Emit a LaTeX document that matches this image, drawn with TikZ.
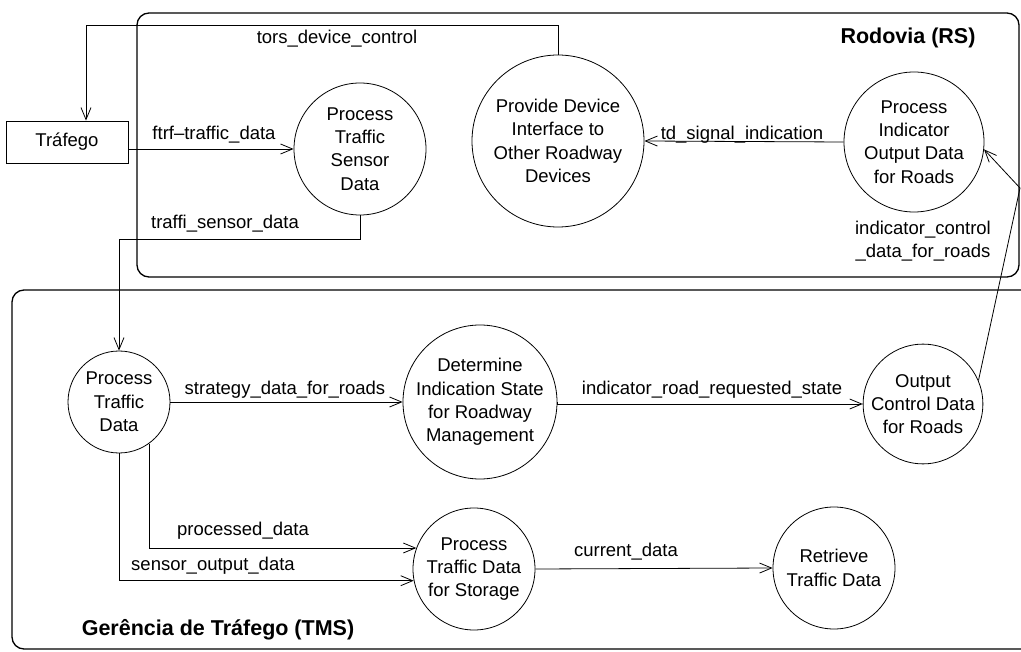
\documentclass[tikz,border=0pt]{standalone}
\usepackage{fontspec}
\setmainfont{Liberation Sans}
\usetikzlibrary{positioning, calc, arrows.meta}

\begin{document}
\begin{tikzpicture}[x=1pt,y=-1pt,
    font=\fontsize{18.5}{23.3}\selectfont,
    zone/.style={draw, line width=1.3pt, rounded corners=12pt},
    proc/.style={draw, circle, line width=0.8pt, inner sep=0pt, align=center},
    term/.style={draw, rectangle, line width=0.8pt, minimum width=122pt, minimum height=42pt},
    flow/.style={line width=0.8pt, -{Straight Barb[length=12pt,width=10pt]}},
    lbl/.style={inner sep=0pt, align=center},
    zonelbl/.style={inner sep=0pt, font=\fontsize{21.5}{25}\selectfont\bfseries}]
        \clip (0,0) rectangle (1021,652);

        % Zones
        \draw[zone] (137,13) rectangle (1019,277);
        \draw[zone] (12,290) rectangle (1040,649);
        \node[zonelbl] (rsName) at (908,38) {Rodovia (RS)};
        \node[zonelbl] (tmsName) at (218,630) {Gerência de Tráfego (TMS)};

        % Terminator
        \node[term] (trafego) at (67,142) {Tráfego};

        % Processes in RS
        \node[proc, minimum size=132pt] (sensor) at (360,149) {Process\\Traffic\\Sensor\\Data};
        \node[proc, minimum size=172pt] (provide) at (558,141) {Provide Device\\Interface to\\Other Roadway\\Devices};
        \node[proc, minimum size=140pt] (indicator) at (914,142) {Process\\Indicator\\Output Data\\for Roads};

        % Processes in TMS
        \node[proc, minimum size=102pt] (ptd) at (119,402) {Process\\Traffic\\Data};
        \node[proc, minimum size=152pt] (determine) at (480,402) {Determine\\Indication State\\for Roadway\\Management};
        \node[proc, minimum size=118pt] (output) at (923,404) {Output\\Control Data\\for Roads};
        \node[proc, minimum size=122pt] (storage) at (474,569) {Process\\Traffic Data\\for Storage};
        \node[proc, minimum size=122pt] (retrieve) at (834,568) {Retrieve\\Traffic Data};

        % Bends
        \coordinate (torsTop) at (86,25);
        \coordinate (tsBend) at (119,239);
        \coordinate (kink) at (1020,188);

        % Flows
        \draw[flow] (provide.north) |- (torsTop) -- (torsTop |- trafego.north);
        \draw[flow] (trafego.east |- sensor.west) -- (sensor.west);
        \draw[flow] (sensor.south) |- (tsBend) -- (ptd.north);
        \draw[flow] (indicator.west) -- (provide.east);
        \draw[flow] (output.23) -- (kink) -- (indicator.-6);
        \draw[flow] (ptd.east) -- (determine.west);
        \draw[flow] (determine.east) -- (output.west -| determine.east) -- (output.west);
        \draw[flow] (ptd.-54) |- (storage.160);
        \draw[flow] (ptd.south) |- (storage.191);
        \draw[flow] (storage.east) -- (retrieve.west);

        % Flow labels
        \node[lbl] (torsLbl) at (337,39) {tors\_device\_control};
        \node[lbl] (ftrfLbl) at (214,135) {ftrf--traffic\_data};
        \node[lbl] (tsLbl) at (225,224) {traffi\_sensor\_data};
        \node[lbl] (tdLbl) at (742,135) {td\_signal\_indication};
        \node[lbl] (icLbl) at (923,241) {indicator\_control\\\_data\_for\_roads};
        \node[lbl] (stratLbl) at (285,390) {strategy\_data\_for\_roads};
        \node[lbl] (irLbl) at (712,390) {indicator\_road\_requested\_state};
        \node[lbl] (procLbl) at (243,531) {processed\_data};
        \node[lbl] (soLbl) at (213,566) {sensor\_output\_data};
        \node[lbl] (curLbl) at (626,552) {current\_data};
\end{tikzpicture}
\end{document}
